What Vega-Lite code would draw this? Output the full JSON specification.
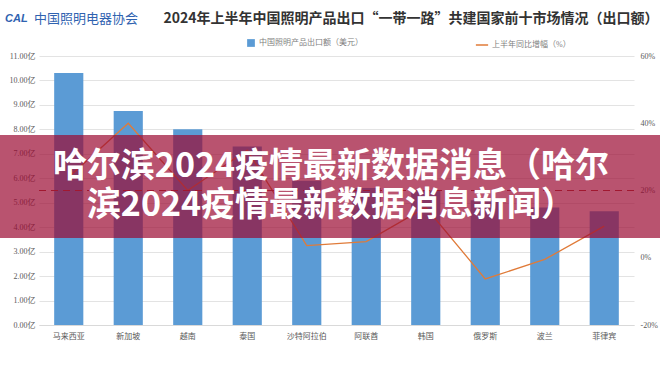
{
  "$schema": "https://vega.github.io/schema/vega-lite/v6.json",
  "width": 595,
  "height": 269,
  "autosize": "none",
  "padding": {"left": 39, "top": 56, "right": 26, "bottom": 50},
  "background": "white",
  "config": {
    "view": {"stroke": null},
    "font": "Liberation Serif, Noto Sans CJK SC"
  },
  "data": {
    "values": [
      {"国家": "马来西亚", "出口额": 10.3, "增幅": 24},
      {"国家": "新加坡", "出口额": 8.75, "增幅": 40},
      {"国家": "越南", "出口额": 8.0, "增幅": 20},
      {"国家": "泰国", "出口额": 7.3, "增幅": 32},
      {"国家": "沙特阿拉伯", "出口额": 5.9, "增幅": 3.6},
      {"国家": "阿联酋", "出口额": 5.6, "增幅": 4.8},
      {"国家": "韩国", "出口额": 5.5, "增幅": 15},
      {"国家": "俄罗斯", "出口额": 5.1, "增幅": -6.3},
      {"国家": "波兰", "出口额": 4.8, "增幅": -0.5},
      {"国家": "菲律宾", "出口额": 4.65, "增幅": 9.4}
    ]
  },
  "layer": [
    {
      "mark": {"type": "bar"},
      "encoding": {
        "x": {
          "field": "国家", "type": "nominal", "sort": null,
          "scale": {"paddingInner": 0.51, "paddingOuter": 0.255},
          "axis": {"title": null, "labelAngle": 0, "ticks": false, "domain": true, "domainColor": "#d9d9d9",
                   "labelFont": "Liberation Serif, Noto Sans CJK SC", "labelFontSize": 8, "labelColor": "#595959", "labelPadding": 7}
        },
        "y": {
          "field": "出口额", "type": "quantitative",
          "scale": {"domain": [0, 11], "nice": false},
          "axis": {"title": null, "values": [0,1,2,3,4,5,6,7,8,9,10,11], "labelExpr": "format(datum.value, '.2f') + '亿'",
                   "domain": false, "ticks": false, "grid": true, "gridColor": "#e3e3e3", "gridWidth": 1,
                   "labelFont": "Liberation Serif, Noto Sans CJK SC", "labelFontSize": 8, "labelColor": "#595959", "labelPadding": 4}
        },
        "color": {
          "datum": "中国照明产品出口额（美元）", "type": "nominal",
          "scale": {"range": ["#5b9bd5"]},
          "legend": {"title": null, "orient": "none", "legendX": 207, "legendY": -18, "padding": 0,
                     "symbolType": "square", "symbolSize": 60, "labelFontSize": 8, "labelColor": "#7f7f7f",
                     "labelFont": "Liberation Serif, Noto Sans CJK SC", "labelOffset": 3}
        }
      }
    },
    {
      "layer": [
        {
          "mark": {"type": "line", "strokeWidth": 1.3},
          "encoding": {
            "x": {"field": "国家", "type": "nominal", "sort": null},
            "y": {
              "field": "增幅", "type": "quantitative",
              "scale": {"domain": [-20, 60], "nice": false},
              "axis": {"title": null, "orient": "right", "values": [-20, 0, 20, 40, 60], "labelExpr": "datum.value + '%'",
                       "domain": false, "ticks": false, "grid": false,
                       "labelFont": "Liberation Serif, Noto Sans CJK SC", "labelFontSize": 8, "labelColor": "#595959", "labelPadding": 6}
            },
            "stroke": {
              "datum": "上半年同比增幅（%）", "type": "nominal",
              "scale": {"range": ["#e07b39"]},
              "legend": {"title": null, "orient": "none", "legendX": 436, "legendY": -18, "padding": 0,
                         "symbolType": "stroke", "symbolSize": 150, "symbolStrokeWidth": 1.5, "labelFontSize": 8, "labelColor": "#7f7f7f",
                         "labelFont": "Liberation Serif, Noto Sans CJK SC", "labelOffset": 3}
            }
          }
        },
        {
          "mark": {"type": "rule", "strokeDash": [7, 5], "color": "#b03a2e", "strokeWidth": 1.1},
          "encoding": {"y": {"datum": 20, "type": "quantitative"}}
        }
      ]
    },
    {
      "data": {"values": [{"k": "banner"}]},
      "mark": {"type": "rect", "fill": "#9b0a32", "opacity": 0.7},
      "encoding": {
        "x": {"value": -39},
        "x2": {"value": 621},
        "y": {"value": 79},
        "y2": {"value": 182}
      }
    },
    {
      "data": {"values": [{"t": "哈尔滨2024疫情最新数据消息（哈尔\n滨2024疫情最新数据消息新闻）"}]},
      "mark": {"type": "text", "font": "Noto Sans CJK SC", "fontWeight": "bold", "fontSize": 34, "lineHeight": 39, "lineBreak": "\n", "color": "white", "align": "center", "baseline": "middle"},
      "encoding": {"text": {"field": "t"}, "x": {"value": 292}, "y": {"value": 111}}
    },
    {
      "data": {"values": [{"t": "2024年上半年中国照明产品出口“一带一路”共建国家前十市场情况（出口额）"}]},
      "mark": {"type": "text", "font": "Noto Sans CJK SC", "fontWeight": "bold", "fontSize": 14, "color": "#333333", "align": "center", "baseline": "middle"},
      "encoding": {"text": {"field": "t"}, "x": {"value": 372}, "y": {"value": -37}}
    },
    {
      "data": {"values": [{"t": "中国照明电器协会"}]},
      "mark": {"type": "text", "font": "Noto Sans CJK SC", "fontSize": 13, "color": "#2f62b0", "align": "left", "baseline": "middle"},
      "encoding": {"text": {"field": "t"}, "x": {"value": -5}, "y": {"value": -37}}
    },
    {
      "data": {"values": [{"t": "CAL"}]},
      "mark": {"type": "text", "font": "Liberation Sans", "fontWeight": "bold", "fontStyle": "italic", "fontSize": 11, "color": "#2f62b0", "align": "left", "baseline": "middle"},
      "encoding": {"text": {"field": "t"}, "x": {"value": -34}, "y": {"value": -37}}
    }
  ],
  "resolve": {"scale": {"y": "independent"}}
}
